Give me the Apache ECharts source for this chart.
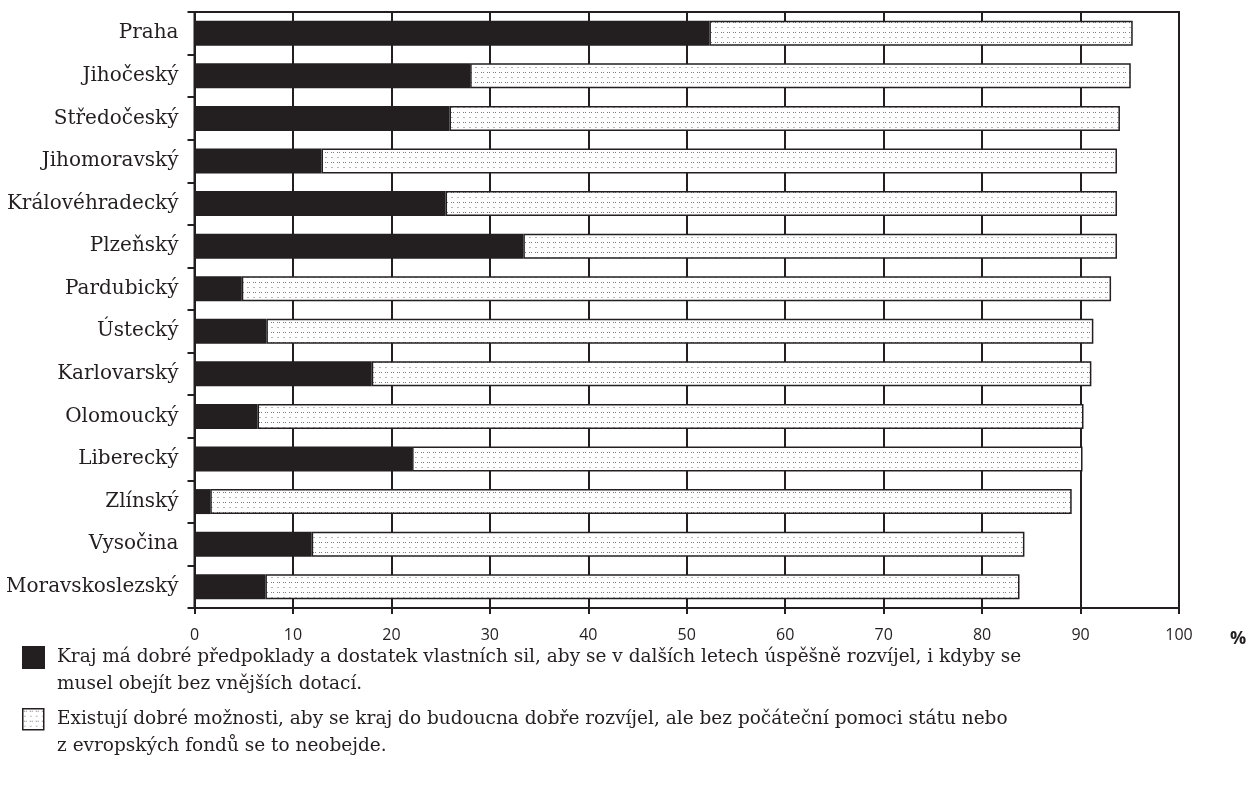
<!DOCTYPE html>
<html>
<head>
<meta charset="utf-8">
<script src="https://cdn.jsdelivr.net/npm/echarts@6/dist/echarts.min.js"></script>
<style>
html,body{margin:0;padding:0;background:#fff;}
#chart{width:1251px;height:789px;}
</style>
</head>
<body>
<div id="chart"></div>
<script>
const categories = ['Praha','Jihočeský','Středočeský','Jihomoravský','Královéhradecký','Plzeňský','Pardubický','Ústecký','Karlovarský','Olomoucký','Liberecký','Zlínský','Vysočina','Moravskoslezský'];
const ownStrength = [52.3, 28.0, 25.9, 12.9, 25.5, 33.4, 4.8, 7.3, 18.0, 6.4, 22.1, 1.6, 11.9, 7.2];
const needsHelp = [43.0, 67.1, 68.1, 80.8, 68.2, 60.3, 88.3, 84.0, 73.1, 83.9, 68.1, 87.5, 72.4, 76.6];
const xTicks = [0, 10, 20, 30, 40, 50, 60, 70, 80, 90, 100];
const unitLabel = '%';
const legendTexts = [
  'Kraj má dobré předpoklady a dostatek vlastních sil, aby se v dalších letech úspěšně rozvíjel, i kdyby se\nmusel obejít bez vnějších dotací.',
  'Existují dobré možnosti, aby se kraj do budoucna dobře rozvíjel, ale bez počáteční pomoci státu nebo\nz evropských fondů se to neobejde.'
];

const INK = '#231f20';
function makePattern(){
  const c = document.createElement('canvas');
  c.width = 6; c.height = 10;
  const g = c.getContext('2d');
  g.fillStyle = '#ffffff'; g.fillRect(0,0,6,10);
  g.fillStyle = '#7a7a7a';
  g.fillRect(1,2,1,1); g.fillRect(3,2,1,1);
  g.fillStyle = '#b8b8b8';
  g.fillRect(1,7,2,1);
  return c;
}
const pat = makePattern();

const chart = echarts.init(document.getElementById('chart'), null, {renderer:'canvas'});
chart.setOption({
  animation:false,
  backgroundColor:'#fff',
  grid:{left:194.5, right:72, top:12, bottom:181, show:true, borderColor:INK, borderWidth:2, backgroundColor:'#fff'},
  xAxis:{
    type:'value', min:xTicks[0], max:xTicks[xTicks.length-1], interval:10,
    axisLine:{show:true, lineStyle:{color:INK, width:2}},
    axisTick:{show:true, length:6, lineStyle:{color:INK, width:2}},
    splitLine:{show:true, lineStyle:{color:INK, width:2}},
    axisLabel:{fontFamily:'Open Sans', fontSize:16, color:INK, margin:19}
  },
  yAxis:{
    type:'category', data:categories, inverse:true,
    axisLine:{show:true, lineStyle:{color:INK, width:2}},
    axisTick:{show:true, length:7, lineStyle:{color:INK, width:2}},
    axisLabel:{fontFamily:'DejaVu Serif', fontSize:20, color:INK, margin:16}
  },
  series:[
    {name:'own', type:'bar', stack:'s', data:ownStrength, barWidth:25,
     itemStyle:{color:INK, borderColor:INK, borderWidth:0}},
    {name:'help', type:'bar', stack:'s', data:needsHelp, barWidth:25,
     itemStyle:{color:{image:pat, repeat:'repeat'}, borderColor:INK, borderWidth:1.5}}
  ],
  graphic:[
    {type:'text', left:1230, top:630, style:{text:unitLabel, font:'bold 18px "Open Sans"', fill:INK}},
    {type:'rect', left:22, top:646, shape:{width:23, height:23}, style:{fill:INK}},
    {type:'text', left:57, top:644, style:{text:legendTexts[0], font:'18.5px "DejaVu Serif"', fill:INK, lineHeight:27}},
    {type:'rect', left:22, top:708, shape:{width:21, height:21}, style:{fill:{image:pat, repeat:'repeat'}, stroke:INK, lineWidth:1.5}},
    {type:'text', left:57, top:706, style:{text:legendTexts[1], font:'18.5px "DejaVu Serif"', fill:INK, lineHeight:27}}
  ]
});
</script>
</body>
</html>
